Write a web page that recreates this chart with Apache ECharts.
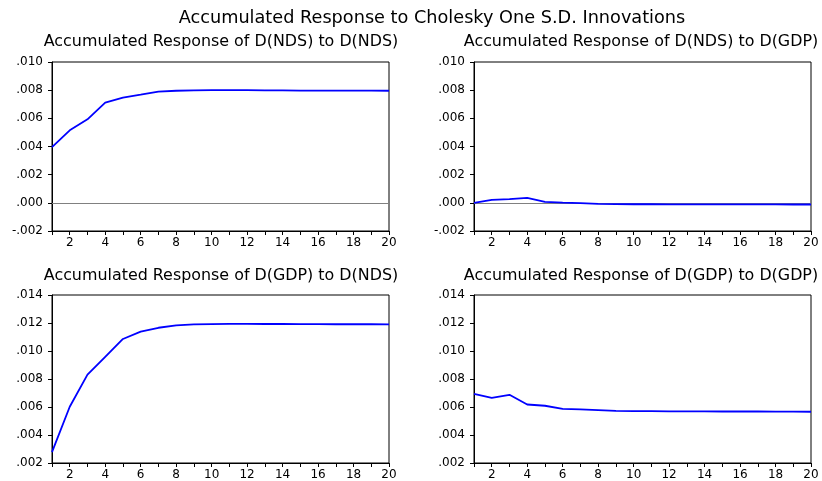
<!DOCTYPE html>
<html>
<head>
<meta charset="utf-8">
<script src="https://cdn.jsdelivr.net/npm/echarts@6/dist/echarts.min.js"></script>
<style>html,body{margin:0;padding:0;background:#fff;}#c{width:822px;height:481px;}</style>
</head>
<body>
<div id="c"></div>
<script>
var periods = ['1','2','3','4','5','6','7','8','9','10','11','12','13','14','15','16','17','18','19','20'];
var ndsToNds = [0.00396,0.00515,0.00593,0.00711,0.00747,0.00768,0.00790,0.00796,0.00799,0.00801,0.00801,0.00800,0.00799,0.00798,0.00797,0.00797,0.00797,0.00797,0.00797,0.00796];
var ndsToGdp = [0.00000,0.00021,0.00026,0.00035,0.00007,0.00002,-0.00002,-0.00007,-0.00009,-0.00010,-0.00010,-0.00011,-0.00011,-0.00011,-0.00011,-0.00011,-0.00011,-0.00011,-0.00012,-0.00012];
var gdpToNds = [0.00278,0.00602,0.00831,0.00958,0.01086,0.01138,0.01166,0.01183,0.01190,0.01192,0.01194,0.01194,0.01193,0.01193,0.01192,0.01192,0.01191,0.01191,0.01191,0.01190];
var gdpToGdp = [0.00694,0.00665,0.00687,0.00618,0.00609,0.00587,0.00583,0.00578,0.00573,0.00571,0.00570,0.00569,0.00569,0.00569,0.00568,0.00568,0.00568,0.00567,0.00567,0.00566];
var mainTitle = 'Accumulated Response to Cholesky One S.D. Innovations';
var panelTitles = ['Accumulated Response of D(NDS) to D(NDS)','Accumulated Response of D(NDS) to D(GDP)','Accumulated Response of D(GDP) to D(NDS)','Accumulated Response of D(GDP) to D(GDP)'];
var yRanges = [[-0.002,0.010],[-0.002,0.010],[0.002,0.014],[0.002,0.014]];
var seriesData = [ndsToNds, ndsToGdp, gdpToNds, gdpToGdp];

var FONT = 'DejaVu Sans, Liberation Sans, sans-serif';
var grids = [
  {left:52, top:62, width:337, height:169},
  {left:474, top:62, width:337, height:169},
  {left:52, top:295, width:337, height:169},
  {left:474, top:295, width:337, height:169}
];
var subCenters = [[221,41.5],[641,41.5],[221,275.5],[641,275.5]];
function fmt(v){
  if (Math.abs(v) < 1e-12) return '.000';
  var s = Math.abs(v).toFixed(3).replace(/^0/, '');
  return (v < 0 ? '-' : '') + s;
}
var option = {
  backgroundColor:'#fff',
  animation:false,
  title: [{text: mainTitle, left: 432, top: 18 - 9, textAlign:'center', padding:0,
           textStyle:{fontFamily:FONT, fontSize:17.7, lineHeight:18, fontWeight:'normal', color:'#000'}}].concat(
    panelTitles.map(function(t,i){
      return {text:t, left: subCenters[i][0], top: subCenters[i][1] - 8, textAlign:'center', padding:0,
              textStyle:{fontFamily:FONT, fontSize:15.9, lineHeight:16, fontWeight:'normal', color:'#000'}};
    })),
  grid: grids.map(function(g){ return {left:g.left, top:g.top, width:g.width, height:g.height, show:true, borderColor:'#000', borderWidth:1, backgroundColor:'#fff', containLabel:false}; }),
  xAxis: grids.map(function(g,i){
    return {type:'category', gridIndex:i, data:periods, boundaryGap:false,
      axisLine:{onZero:false, lineStyle:{color:'#000', width:1}},
      axisTick:{show:true, interval:0, length:4, lineStyle:{color:'#000'}},
      axisLabel:{interval:function(idx, val){ return (+val) % 2 === 0; }, color:'#000', fontFamily:FONT, fontSize:12, margin:6},
      splitLine:{show:false}};
  }),
  yAxis: grids.map(function(g,i){
    return {type:'value', gridIndex:i, min:yRanges[i][0], max:yRanges[i][1], interval:0.002,
      axisLine:{show:true, lineStyle:{color:'#000', width:1}},
      axisTick:{show:true, length:4, lineStyle:{color:'#000'}},
      axisLabel:{formatter:fmt, color:'#000', fontFamily:FONT, fontSize:12, margin:9},
      splitLine:{show:false}};
  }),
  series: seriesData.map(function(d,i){
    var s = {type:'line', xAxisIndex:i, yAxisIndex:i, data:d, symbol:'none', smooth:false,
      lineStyle:{color:'#0000ff', width:1.8}, z:3};
    if (yRanges[i][0] < 0) {
      s.markLine = {silent:true, symbol:['none','none'], label:{show:false},
        lineStyle:{color:'#808080', width:1, type:'solid'}, data:[{yAxis:0}], z:2};
    }
    return s;
  })
};
echarts.init(document.getElementById('c')).setOption(option);
</script>
</body>
</html>
